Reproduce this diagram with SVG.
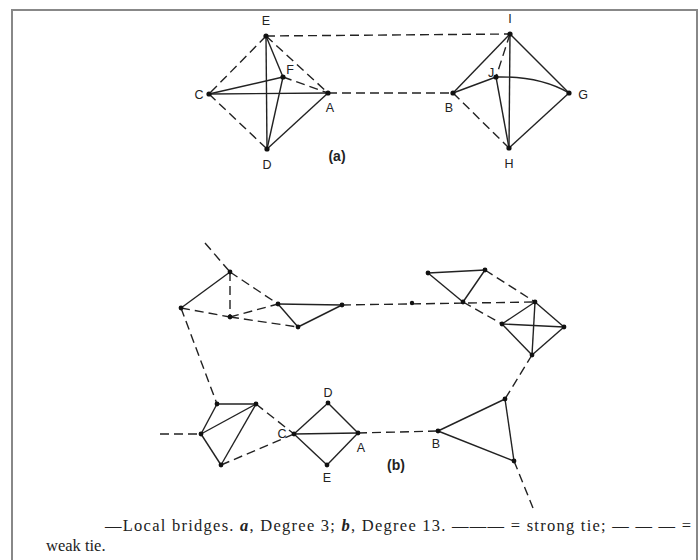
<svg xmlns="http://www.w3.org/2000/svg" width="700" height="560" viewBox="0 0 700 560">
<style>
.s{stroke:#222;stroke-width:1.4;fill:none}
.w{stroke:#222;stroke-width:1.4;fill:none;stroke-dasharray:9 5}
.n{fill:#111}
.l{font-family:"Liberation Sans",Arial,sans-serif;font-size:12.5px;fill:#222;text-anchor:middle}
.p{font-family:"Liberation Sans",Arial,sans-serif;font-size:14px;font-weight:bold;fill:#222;text-anchor:middle}
.c{font-family:"Liberation Serif","Times New Roman",serif;font-size:16.5px;fill:#222}
</style>
<rect width="700" height="560" fill="#fff"/>
<path d="M12 575V10H697V575" stroke="#888" stroke-width="2" fill="none"/>
<g id="connectors">
<line class="w" x1="266" y1="36" x2="209" y2="94"/>
<line class="w" x1="266" y1="36" x2="328" y2="93"/>
<line class="w" x1="209" y1="94" x2="267" y2="149"/>
<line class="s" x1="267" y1="149" x2="328" y2="93"/>
<line class="s" x1="209" y1="94" x2="328" y2="93"/>
<line class="s" x1="266" y1="36" x2="267" y2="149"/>
<line class="s" x1="266" y1="36" x2="283" y2="77"/>
<line class="s" x1="209" y1="94" x2="283" y2="77"/>
<line class="s" x1="283" y1="77" x2="267" y2="149"/>
<line class="w" x1="283" y1="77" x2="328" y2="93"/>
<line class="w" x1="266" y1="36" x2="510" y2="34"/>
<line class="w" x1="328" y1="93" x2="453" y2="93"/>
<line class="s" x1="510" y1="34" x2="453" y2="93"/>
<line class="s" x1="510" y1="34" x2="569" y2="93"/>
<line class="s" x1="510" y1="34" x2="509" y2="148"/>
<line class="w" x1="510" y1="34" x2="496" y2="77"/>
<line class="s" x1="453" y1="93" x2="496" y2="77"/>
<path class="s" d="M496 77Q540 76 569 93"/>
<line class="s" x1="496" y1="77" x2="509" y2="148"/>
<line class="w" x1="453" y1="93" x2="509" y2="148"/>
<line class="s" x1="509" y1="148" x2="569" y2="93"/>
<line class="w" x1="205" y1="243" x2="230" y2="272"/>
<line class="s" x1="230" y1="272" x2="181" y2="308"/>
<line class="w" x1="230" y1="272" x2="230" y2="317"/>
<line class="w" x1="181" y1="308" x2="230" y2="317"/>
<line class="w" x1="230" y1="317" x2="278" y2="304"/>
<line class="w" x1="230" y1="317" x2="298" y2="327"/>
<line class="w" x1="230" y1="272" x2="278" y2="304"/>
<line class="s" x1="278" y1="304" x2="298" y2="327"/>
<line class="s" x1="278" y1="304" x2="342" y2="305"/>
<line class="s" x1="298" y1="327" x2="342" y2="305"/>
<line class="w" x1="342" y1="305" x2="535" y2="302"/>
<line class="w" x1="181" y1="308" x2="217" y2="404"/>
<line class="s" x1="428" y1="273" x2="485" y2="270"/>
<line class="s" x1="428" y1="273" x2="463" y2="302"/>
<line class="s" x1="485" y1="270" x2="463" y2="302"/>
<line class="w" x1="485" y1="270" x2="535" y2="302"/>
<line class="w" x1="463" y1="302" x2="502" y2="324"/>
<line class="s" x1="502" y1="324" x2="535" y2="302"/>
<line class="s" x1="502" y1="324" x2="564" y2="327"/>
<line class="s" x1="535" y1="302" x2="564" y2="327"/>
<line class="s" x1="535" y1="302" x2="532" y2="355"/>
<line class="s" x1="502" y1="324" x2="532" y2="355"/>
<line class="s" x1="564" y1="327" x2="532" y2="355"/>
<line class="w" x1="532" y1="355" x2="505" y2="399"/>
<line class="w" x1="160" y1="434" x2="201" y2="434"/>
<line class="s" x1="217" y1="404" x2="256" y2="404"/>
<line class="s" x1="217" y1="404" x2="201" y2="434"/>
<line class="s" x1="201" y1="434" x2="256" y2="404"/>
<line class="s" x1="201" y1="434" x2="221" y2="465"/>
<line class="s" x1="221" y1="465" x2="256" y2="404"/>
<line class="w" x1="256" y1="404" x2="294" y2="434"/>
<line class="w" x1="221" y1="465" x2="294" y2="434"/>
<line class="s" x1="294" y1="434" x2="328" y2="403"/>
<line class="s" x1="328" y1="403" x2="358" y2="433"/>
<line class="s" x1="294" y1="434" x2="358" y2="433"/>
<line class="s" x1="294" y1="434" x2="327" y2="465"/>
<line class="s" x1="327" y1="465" x2="358" y2="433"/>
<line class="w" x1="358" y1="433" x2="438" y2="431"/>
<line class="s" x1="438" y1="431" x2="505" y2="399"/>
<line class="s" x1="438" y1="431" x2="514" y2="461"/>
<line class="s" x1="505" y1="399" x2="514" y2="461"/>
<line class="w" x1="514" y1="461" x2="533" y2="508"/>
</g>
<g id="nodes-a">
<g id="E"><circle class="n" cx="266" cy="36" r="2.6"/><text class="l" x="266" y="25">E</text></g>
<g id="F"><circle class="n" cx="283" cy="77" r="2.6"/><text class="l" x="290" y="74">F</text></g>
<g id="C"><circle class="n" cx="209" cy="94" r="2.6"/><text class="l" x="199" y="99">C</text></g>
<g id="A"><circle class="n" cx="328" cy="93" r="2.6"/><text class="l" x="330" y="112">A</text></g>
<g id="D"><circle class="n" cx="267" cy="149" r="2.6"/><text class="l" x="267" y="169">D</text></g>
<g id="I"><circle class="n" cx="510" cy="34" r="2.6"/><text class="l" x="510" y="23">I</text></g>
<g id="J"><circle class="n" cx="496" cy="77" r="2.6"/><text class="l" x="491" y="77">J</text></g>
<g id="B"><circle class="n" cx="453" cy="93" r="2.6"/><text class="l" x="449" y="112">B</text></g>
<g id="G"><circle class="n" cx="569" cy="93" r="2.6"/><text class="l" x="583" y="99">G</text></g>
<g id="H"><circle class="n" cx="509" cy="148" r="2.6"/><text class="l" x="509" y="168">H</text></g>
<text class="p" x="337" y="161">(a)</text>
</g>
<g id="nodes-b">
<g id="b1"><circle class="n" cx="230" cy="272" r="2.4"/></g>
<g id="b2"><circle class="n" cx="181" cy="308" r="2.4"/></g>
<g id="b3"><circle class="n" cx="230" cy="317" r="2.4"/></g>
<g id="b4"><circle class="n" cx="278" cy="304" r="2.4"/></g>
<g id="b5"><circle class="n" cx="298" cy="327" r="2.4"/></g>
<g id="b6"><circle class="n" cx="342" cy="305" r="2.4"/></g>
<g id="b7"><circle class="n" cx="412" cy="303" r="2.2"/></g>
<g id="b8"><circle class="n" cx="428" cy="273" r="2.4"/></g>
<g id="b9"><circle class="n" cx="485" cy="270" r="2.4"/></g>
<g id="b10"><circle class="n" cx="463" cy="302" r="2.4"/></g>
<g id="b11"><circle class="n" cx="535" cy="302" r="2.4"/></g>
<g id="b12"><circle class="n" cx="502" cy="324" r="2.4"/></g>
<g id="b13"><circle class="n" cx="564" cy="327" r="2.4"/></g>
<g id="b14"><circle class="n" cx="532" cy="355" r="2.4"/></g>
<g id="b15"><circle class="n" cx="217" cy="404" r="2.4"/></g>
<g id="b16"><circle class="n" cx="256" cy="404" r="2.4"/></g>
<g id="b17"><circle class="n" cx="201" cy="434" r="2.4"/></g>
<g id="b18"><circle class="n" cx="221" cy="465" r="2.4"/></g>
<g id="bC"><circle class="n" cx="294" cy="434" r="2.4"/><text class="l" x="282" y="438">C</text></g>
<g id="bD"><circle class="n" cx="328" cy="403" r="2.4"/><text class="l" x="328" y="397">D</text></g>
<g id="bA"><circle class="n" cx="358" cy="433" r="2.4"/><text class="l" x="361" y="452">A</text></g>
<g id="bE"><circle class="n" cx="327" cy="465" r="2.4"/><text class="l" x="327" y="482">E</text></g>
<g id="bB"><circle class="n" cx="438" cy="431" r="2.4"/><text class="l" x="436" y="448">B</text></g>
<g id="b19"><circle class="n" cx="505" cy="399" r="2.4"/></g>
<g id="b20"><circle class="n" cx="514" cy="461" r="2.4"/></g>
<text class="p" x="396" y="470">(b)</text>
</g>
<g id="caption">
<text class="c" x="105" y="531" textLength="586" lengthAdjust="spacing">—Local bridges. <tspan font-style="italic" font-weight="bold">a</tspan>, Degree 3; <tspan font-style="italic" font-weight="bold">b</tspan>, Degree 13. ——— = strong tie; — — — =</text>
<text class="c" x="46" y="551">weak tie.</text>
</g>
</svg>
